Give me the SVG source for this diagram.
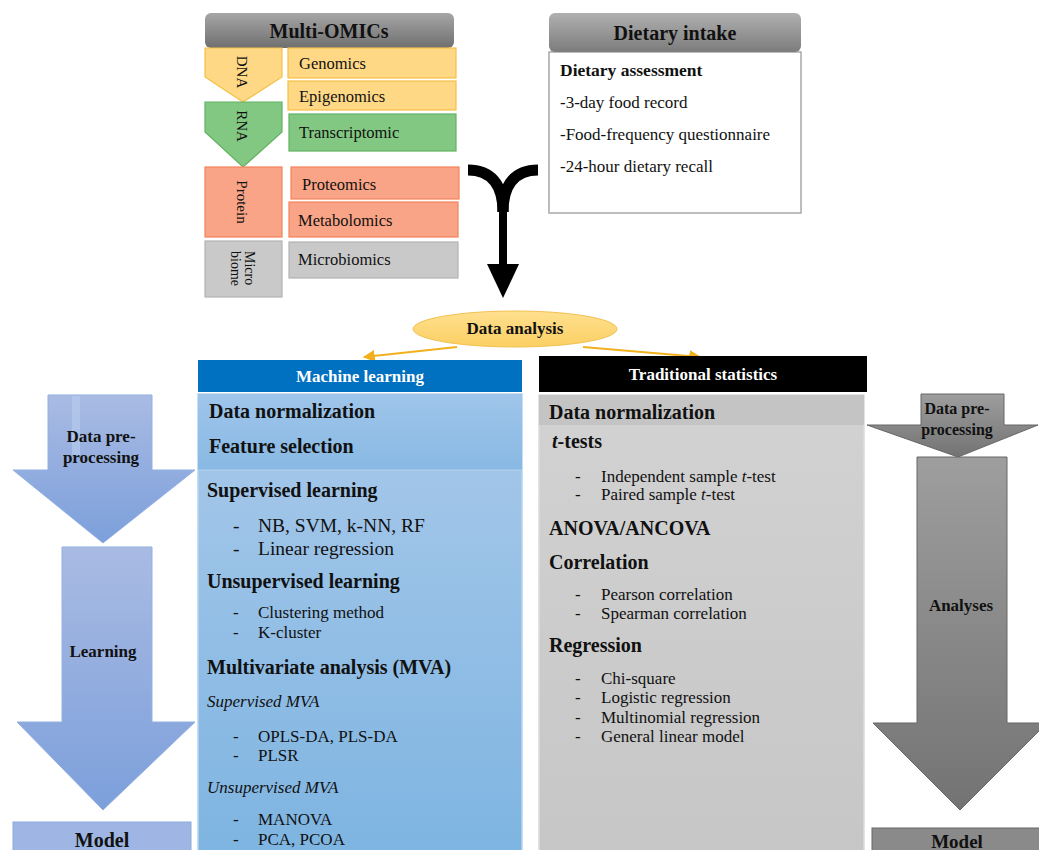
<svg xmlns="http://www.w3.org/2000/svg" width="1039" height="850" viewBox="0 0 1039 850">
<defs>
<linearGradient id="gHead" x1="0" y1="0" x2="0" y2="1"><stop offset="0" stop-color="#a6a6a6"/><stop offset="1" stop-color="#6f6f6f"/></linearGradient>
<linearGradient id="gHead2" x1="0" y1="0" x2="0" y2="1"><stop offset="0" stop-color="#b0b0b0"/><stop offset="1" stop-color="#7c7c7c"/></linearGradient>
<linearGradient id="gBlue" x1="0" y1="0" x2="0" y2="1"><stop offset="0" stop-color="#a9c9ea"/><stop offset="1" stop-color="#7db4e1"/></linearGradient>
<linearGradient id="gBlueBand" x1="0" y1="0" x2="0" y2="1"><stop offset="0" stop-color="#9fc5ea"/><stop offset="1" stop-color="#88b9e4"/></linearGradient>
<linearGradient id="gArrowB" x1="0" y1="0" x2="0" y2="1"><stop offset="0" stop-color="#a9bbe3"/><stop offset="1" stop-color="#7c9fdb"/></linearGradient>
<linearGradient id="gArrowG" x1="0" y1="0" x2="0" y2="1"><stop offset="0" stop-color="#9e9e9e"/><stop offset="1" stop-color="#737373"/></linearGradient>
<linearGradient id="gGrayBox" x1="0" y1="0" x2="0" y2="1"><stop offset="0" stop-color="#d2d2d2"/><stop offset="1" stop-color="#c6c6c6"/></linearGradient>
<linearGradient id="gEll" x1="0" y1="0" x2="0" y2="1"><stop offset="0" stop-color="#ffe08f"/><stop offset="1" stop-color="#fbcf62"/></linearGradient>
<marker id="mOr" viewBox="0 0 10 10" refX="9" refY="5" markerWidth="6" markerHeight="6" orient="auto-start-reverse"><path d="M0,0 L10,5 L0,10 z" fill="#f2b01e"/></marker>
</defs>
<style>
text{font-family:"Liberation Serif","Times New Roman",serif;fill:#111}
.b{font-weight:bold}
.i{font-style:italic}
.w{fill:#fff}
.yel{fill:#ffd886;stroke:#f6c046;stroke-width:1.2}
.grn{fill:#82c882;stroke:#62b262;stroke-width:1.2}
.sal{fill:#f9a487;stroke:#f3845a;stroke-width:1.2}
.gry{fill:#c9c9c9;stroke:#b3b3b3;stroke-width:1.2}
.om{font-size:16.5px}
.vt{font-size:15px}
.h{font-size:20px;font-weight:bold}
.it{font-size:19.5px}
.it2{font-size:17px}
.di{font-size:17px}
.conn{fill:none;stroke:#f2b01e;stroke-width:2}
</style>
<rect width="1039" height="850" fill="#fff"/>

<g id="multi-omics">
<rect x="205" y="13" width="249" height="35" rx="6" fill="url(#gHead)"/>
<text x="329" y="38" text-anchor="middle" class="b" font-size="20">Multi-OMICs</text>
<polygon class="yel" points="205,48 282,48 282,77 243,102 205,77"/>
<text class="vt" transform="translate(242,72) rotate(90)" text-anchor="middle" dy="0.33em">DNA</text>
<polygon class="grn" points="205,102 282,102 282,132 243,167 205,132"/>
<text class="vt" transform="translate(242,126) rotate(90)" text-anchor="middle" dy="0.33em">RNA</text>
<rect class="sal" x="205" y="167" width="77" height="70"/>
<text class="vt" transform="translate(242,202) rotate(90)" text-anchor="middle" dy="0.33em">Protein</text>
<rect class="gry" x="205" y="241" width="77" height="56"/>
<text font-size="14" transform="translate(250,251) rotate(90)" dy="0.33em">Micro</text>
<text font-size="14" transform="translate(236,251) rotate(90)" dy="0.33em">biome</text>
<rect class="yel" x="288" y="48" width="168" height="30"/>
<text class="om" x="299" y="69">Genomics</text>
<rect class="yel" x="288" y="81" width="168" height="29"/>
<text class="om" x="299" y="102">Epigenomics</text>
<rect class="grn" x="289" y="114" width="167" height="37"/>
<text class="om" x="299" y="138">Transcriptomic</text>
<rect class="sal" x="291" y="167" width="168" height="32"/>
<text class="om" x="302" y="190">Proteomics</text>
<rect class="sal" x="289" y="202" width="169" height="35"/>
<text class="om" x="298" y="226">Metabolomics</text>
<rect class="gry" x="289" y="242" width="169" height="36"/>
<text class="om" x="298" y="265">Microbiomics</text>
</g>

<g id="dietary-intake">
<rect x="549" y="52" width="252" height="161" fill="#fff" stroke="#a8a8a8" stroke-width="1.5"/>
<rect x="549" y="13" width="252" height="39" rx="6" fill="url(#gHead2)"/>
<text x="675" y="40" text-anchor="middle" class="b" font-size="20">Dietary intake</text>
<text x="560" y="76" class="b" font-size="17.5">Dietary assessment</text>
<text x="560" y="108" class="di">-3-day food record</text>
<text x="560" y="140" class="di">-Food-frequency questionnaire</text>
<text x="560" y="172" class="di">-24-hour dietary recall</text>
</g>

<g id="merge-arrow">
<path d="M468,170 C490,170 503,183 503,212" fill="none" stroke="#000" stroke-width="11"/>
<path d="M538,170 C516,170 503,183 503,212" fill="none" stroke="#000" stroke-width="11"/>
<path d="M503,205 L503,268" stroke="#000" stroke-width="8"/>
<polygon points="487,264 519,264 503,298" fill="#000"/>
</g>

<g id="data-analysis">
<ellipse cx="515" cy="329" rx="102" ry="18" fill="url(#gEll)" stroke="#f2c153" stroke-width="1"/>
<text x="515" y="334" text-anchor="middle" class="b" font-size="17">Data analysis</text>
</g>

<g id="connectors">
<path class="conn" d="M457,347 L364,357" marker-end="url(#mOr)"/>
<path class="conn" d="M583,347 L700,357" marker-end="url(#mOr)"/>
</g>

<g id="machine-learning">
<rect x="198" y="360" width="324" height="32" fill="#0070c0"/>
<text x="360" y="382" text-anchor="middle" class="b w" font-size="17">Machine learning</text>
<rect x="198" y="394" width="324" height="470" fill="url(#gBlue)" stroke="#b7d3ee" stroke-width="1.5"/>
<rect x="198" y="394" width="324" height="76" fill="url(#gBlueBand)"/>
<line x1="198" y1="470" x2="522" y2="470" stroke="#b5d2ee" stroke-width="1.2"/>
<text x="209" y="418" class="h">Data normalization</text>
<text x="209" y="453" class="h">Feature selection</text>
<text x="207" y="497" class="h">Supervised learning</text>
<text x="233" y="532" class="it">-</text><text x="258" y="532" class="it">NB, SVM, k-NN, RF</text>
<text x="233" y="555" class="it">-</text><text x="258" y="555" class="it">Linear regression</text>
<text x="207" y="588" class="h">Unsupervised learning</text>
<text x="233" y="618" class="it2">-</text><text x="258" y="618" class="it2">Clustering method</text>
<text x="233" y="638" class="it2">-</text><text x="258" y="638" class="it2">K-cluster</text>
<text x="207" y="674" class="h">Multivariate analysis (MVA)</text>
<text x="207" y="707" class="it2 i">Supervised MVA</text>
<text x="233" y="742" class="it2">-</text><text x="258" y="742" class="it2">OPLS-DA, PLS-DA</text>
<text x="233" y="761" class="it2">-</text><text x="258" y="761" class="it2">PLSR</text>
<text x="207" y="793" class="it2 i">Unsupervised MVA</text>
<text x="233" y="825" class="it2">-</text><text x="258" y="825" class="it2">MANOVA</text>
<text x="233" y="845" class="it2">-</text><text x="258" y="845" class="it2">PCA, PCOA</text>
</g>

<g id="traditional-statistics">
<rect x="539" y="356" width="328" height="36" fill="#000"/>
<text x="703" y="380" text-anchor="middle" class="b w" font-size="17">Traditional statistics</text>
<rect x="539" y="395" width="325" height="470" fill="url(#gGrayBox)" stroke="#dcdcdc" stroke-width="1.5"/>
<rect x="539" y="395" width="325" height="30" fill="#c4c4c4"/>
<text x="549" y="419" class="h">Data normalization</text>
<text x="552" y="448" class="h"><tspan class="i">t</tspan>-tests</text>
<text x="575" y="482" class="it2">-</text><text x="601" y="482" class="it2">Independent sample <tspan class="i">t</tspan>-test</text>
<text x="575" y="500" class="it2">-</text><text x="601" y="500" class="it2">Paired sample <tspan class="i">t</tspan>-test</text>
<text x="549" y="535" class="h">ANOVA/ANCOVA</text>
<text x="549" y="569" class="h">Correlation</text>
<text x="575" y="600" class="it2">-</text><text x="601" y="600" class="it2">Pearson correlation</text>
<text x="575" y="619" class="it2">-</text><text x="601" y="619" class="it2">Spearman correlation</text>
<text x="549" y="652" class="h">Regression</text>
<text x="575" y="684" class="it2">-</text><text x="601" y="684" class="it2">Chi-square</text>
<text x="575" y="703" class="it2">-</text><text x="601" y="703" class="it2">Logistic regression</text>
<text x="575" y="723" class="it2">-</text><text x="601" y="723" class="it2">Multinomial regression</text>
<text x="575" y="742" class="it2">-</text><text x="601" y="742" class="it2">General linear model</text>
</g>

<g id="ml-flow">
<polygon points="48,395 152,395 152,470 195,470 103,543 13,470 48,470" fill="url(#gArrowB)" stroke="#93b0e2" stroke-width="1"/>
<rect x="72" y="396" width="8" height="60" fill="#b9cdef" opacity="0.6"/>
<text x="101" y="442" text-anchor="middle" class="b" font-size="17">Data pre-</text>
<text x="101" y="463" text-anchor="middle" class="b" font-size="17">processing</text>
<polygon points="62,547 152,547 152,722 195,722 103,810 17,722 62,722" fill="url(#gArrowB)" stroke="#93b0e2" stroke-width="1"/>
<text x="103" y="657" text-anchor="middle" class="b" font-size="17">Learning</text>
<rect x="13" y="822" width="178" height="40" fill="#9fb6e4" stroke="#8eaae0" stroke-width="1"/>
<text x="102" y="847" text-anchor="middle" class="b" font-size="20">Model</text>
</g>

<g id="ts-flow">
<polygon points="921,394 1004,394 1004,425 1038,425 958,457 867,425 921,425" fill="url(#gArrowG)" stroke="#666" stroke-width="1"/>
<text x="957" y="414" text-anchor="middle" class="b" font-size="16">Data pre-</text>
<text x="957" y="435" text-anchor="middle" class="b" font-size="16">processing</text>
<polygon points="917,457 1007,457 1007,723 1047,723 960,810 873,723 917,723" fill="url(#gArrowG)" stroke="#666" stroke-width="1"/>
<text x="961" y="611" text-anchor="middle" class="b" font-size="17">Analyses</text>
<rect x="872" y="828" width="175" height="30" fill="#8a8a8a" stroke="#666" stroke-width="1"/>
<text x="957" y="848" text-anchor="middle" class="b" font-size="19">Model</text>
</g>
</svg>
